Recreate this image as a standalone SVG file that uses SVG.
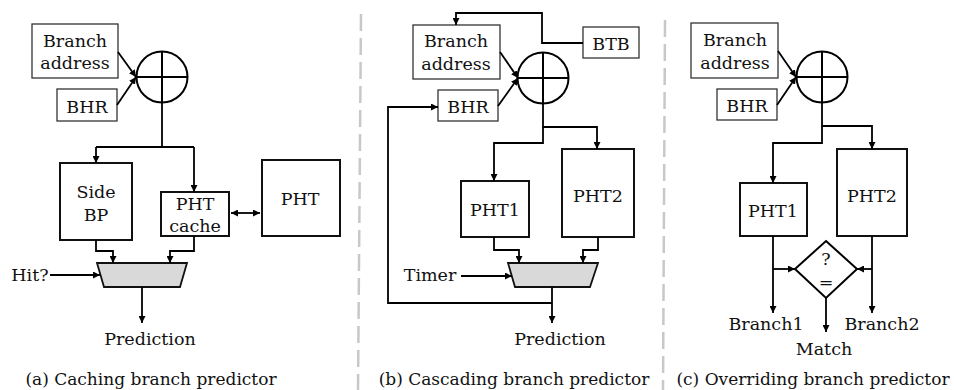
<svg xmlns="http://www.w3.org/2000/svg" width="954" height="390" viewBox="0 0 954 390">
<defs>
<marker id="ah" viewBox="0 0 10 10" refX="10" refY="5" markerWidth="7" markerHeight="7" markerUnits="userSpaceOnUse" orient="auto-start-reverse">
<path d="M0,0 L10,5 L0,10 z" fill="#000"/>
</marker>
<style>
text{font-family:"DejaVu Serif","Liberation Serif",serif;font-size:17.5px;fill:#111;text-anchor:middle}
.cap{font-size:17px}
.bx{fill:#fff;stroke:#333;stroke-width:1.3}
.bb{fill:#fff;stroke:#111;stroke-width:2}
.xor{fill:#fff;stroke:#000;stroke-width:2}
.mux{fill:#d9d9d9;stroke:#111;stroke-width:1.8}
.w{fill:none;stroke:#000;stroke-width:1.8}
.a{fill:none;stroke:#000;stroke-width:1.8;marker-end:url(#ah)}
.div{stroke:#c8c8c8;stroke-width:2.5;stroke-dasharray:17 7}
</style>
</defs>
<rect width="954" height="390" fill="#fff"/>
<g id="dividers">
<line class="div" x1="361" y1="14" x2="358" y2="390"/>
<line class="div" x1="665" y1="20" x2="663" y2="390"/>
</g>
<!-- Panel a -->
<g id="a-branch"><rect class="bx" x="32" y="24" width="86" height="54"/><text x="75" y="47">Branch</text><text x="75" y="69">address</text></g>
<g id="a-bhr"><rect class="bx" x="57" y="89" width="60" height="32"/><text x="87" y="113">BHR</text></g>
<g id="a-xor"><circle class="xor" cx="162" cy="77" r="25.5"/><line class="xor" x1="136.5" y1="77" x2="187.5" y2="77"/><line class="xor" x1="162" y1="51.5" x2="162" y2="102.5"/></g>
<g id="a-side"><rect class="bb" x="60" y="163" width="72" height="77"/><text x="96" y="198">Side</text><text x="96" y="221">BP</text></g>
<g id="a-phtcache"><rect class="bb" x="161" y="192" width="68" height="44"/><text x="195" y="210">PHT</text><text x="195" y="232">cache</text></g>
<g id="a-pht"><rect class="bb" x="262" y="160" width="78" height="76"/><text x="300" y="205">PHT</text></g>
<g id="a-mux"><polygon class="mux" points="97,263 187,263 180,287 104,287"/></g>
<g id="a-labels"><text x="30" y="281">Hit?</text><text x="150" y="345">Prediction</text><text class="cap" x="151" y="385">(a) Caching branch predictor</text></g>
<g id="a-connectors">
<path class="a" d="M118,52 L136,77"/>
<path class="a" d="M117,105 L136,77"/>
<path class="w" d="M162,103 V147 M96,147 H194"/>
<path class="a" d="M96,147 V163"/>
<path class="a" d="M194,147 V192"/>
<path class="a" d="M231,213 H260" style="marker-start:url(#ah)"/>
<path class="a" d="M96,240 V251 H113 V263"/>
<path class="a" d="M194,236 V251 H170 V263"/>
<path class="a" d="M50,275 H100"/>
<path class="a" d="M142,287 V323"/>
</g>
<!-- Panel b -->
<g id="b-branch"><rect class="bx" x="413" y="25" width="87" height="54"/><text x="456" y="47">Branch</text><text x="456" y="70">address</text></g>
<g id="b-btb"><rect class="bx" x="583" y="27" width="56" height="31"/><text x="611" y="50">BTB</text></g>
<g id="b-bhr"><rect class="bx" x="438" y="90" width="60" height="31"/><text x="468" y="113">BHR</text></g>
<g id="b-xor"><circle class="xor" cx="543" cy="78" r="25.5"/><line class="xor" x1="517.5" y1="78" x2="568.5" y2="78"/><line class="xor" x1="543" y1="52.5" x2="543" y2="103.5"/></g>
<g id="b-pht1"><rect class="bb" x="461" y="181" width="68" height="56"/><text x="495" y="216">PHT1</text></g>
<g id="b-pht2"><rect class="bb" x="562" y="149" width="72" height="88"/><text x="598" y="202">PHT2</text></g>
<g id="b-mux"><polygon class="mux" points="508,263 598,263 590,287 515,287"/></g>
<g id="b-labels"><text x="430" y="281">Timer</text><text x="560" y="345">Prediction</text><text class="cap" x="514" y="385">(b) Cascading branch predictor</text></g>
<g id="b-connectors">
<path class="a" d="M583,43 H542 V13 H456 V25"/>
<path class="a" d="M500,52 L518,78"/>
<path class="a" d="M498,106 L518,78"/>
<path class="a" d="M543,103 V127 H597 V149"/>
<path class="a" d="M543,127 V143 H494 V181"/>
<path class="a" d="M494,237 V250 H519 V263"/>
<path class="a" d="M598,237 V250 H583 V263"/>
<path class="a" d="M461,276 H512"/>
<path class="a" d="M552,287 V323"/>
<path class="a" d="M552,303 H388 V107 H438"/>
</g>
<!-- Panel c -->
<g id="c-branch"><rect class="bx" x="691" y="23" width="87" height="55"/><text x="735" y="46">Branch</text><text x="735" y="69">address</text></g>
<g id="c-bhr"><rect class="bx" x="717" y="89" width="60" height="31"/><text x="747" y="112">BHR</text></g>
<g id="c-xor"><circle class="xor" cx="822" cy="77" r="25.5"/><line class="xor" x1="796.5" y1="77" x2="847.5" y2="77"/><line class="xor" x1="822" y1="51.5" x2="822" y2="102.5"/></g>
<g id="c-pht1"><rect class="bb" x="740" y="183" width="67" height="53"/><text x="773" y="217">PHT1</text></g>
<g id="c-pht2"><rect class="bb" x="837" y="149" width="70" height="87"/><text x="872" y="202">PHT2</text></g>
<g id="c-cmp"><polygon class="xor" points="826,241 857,269 826,298 795,269"/><text x="826" y="265">?</text><text x="826" y="288">=</text></g>
<g id="c-labels"><text x="766" y="330">Branch1</text><text x="882" y="330">Branch2</text><text x="824" y="355">Match</text><text class="cap" x="813" y="385">(c) Overriding branch predictor</text></g>
<g id="c-connectors">
<path class="a" d="M778,51 L796,77"/>
<path class="a" d="M777,105 L796,77"/>
<path class="a" d="M822,103 V126 H872 V149"/>
<path class="a" d="M822,126 V143 H773 V183"/>
<path class="a" d="M773,236 V313"/>
<path class="a" d="M773,269 H795"/>
<path class="a" d="M872,236 V313"/>
<path class="a" d="M872,269 H857"/>
<path class="a" d="M826,298 V332"/>
</g>
</svg>
